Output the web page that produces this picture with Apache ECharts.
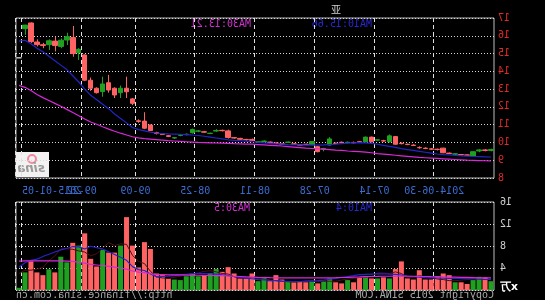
<!DOCTYPE html>
<html><head><meta charset="utf-8">
<script src="https://cdn.jsdelivr.net/npm/echarts@6/dist/echarts.min.js"></script>
<style>html,body{margin:0;padding:0;background:#000;}#c{width:545px;height:300px;transform:scaleX(-1);}</style>
</head><body><div id="c"></div>
<script>
const dates = ['2014-06-16','2014-06-17','2014-06-18','2014-06-19','2014-06-20','2014-06-23','2014-06-24','2014-06-25','2014-06-26','2014-06-27',
'2014-06-30','2014-07-01','2014-07-02','2014-07-03','2014-07-04','2014-07-07','2014-07-08','2014-07-09','2014-07-10','2014-07-11',
'2014-07-14','2014-07-15','2014-07-16','2014-07-17','2014-07-18','2014-07-21','2014-07-22','2014-07-23','2014-07-24','2014-07-25',
'2014-07-28','2014-07-29','2014-07-30','2014-07-31','2014-08-01','2014-08-04','2014-08-05','2014-08-06','2014-08-07','2014-08-08',
'2014-08-11','2014-08-12','2014-08-13','2014-08-14','2014-08-15','2014-08-18','2014-08-19','2014-08-20','2014-08-21','2014-08-22',
'2014-08-25','2014-08-26','2014-08-27','2014-08-28','2014-08-29','2014-09-01','2014-09-02','2014-09-03','2014-09-04','2014-09-05',
'2014-09-09','2014-09-10','2014-09-11','2014-09-12','2014-09-15','2014-09-16','2014-09-17','2014-09-18','2014-09-19','2014-09-22',
'2014-09-23','2014-09-24','2014-09-25','2014-09-26','2014-09-29','2014-09-30','2014-10-08','2014-10-09','2014-10-10','2015-01-05'];
const opens = [9.6,9.55,9.58,9.48,9.28,9.3,9.36,9.38,9.42,9.6,
9.62,9.66,9.7,9.83,9.88,9.93,9.9,10.37,10.08,10.15,
10.04,10.3,10.02,9.98,10.01,9.99,9.94,10.2,9.65,9.48,
10.05,9.88,9.85,9.9,10.02,9.9,9.95,10.0,10.08,10.04,
10.12,10.15,10.18,10.25,10.28,10.66,10.67,10.52,10.58,10.65,
10.73,10.46,10.42,10.27,10.34,10.45,10.5,10.67,10.8,11.18,
12.2,12.85,13.05,12.67,12.95,13.29,12.8,13.05,13.5,15.24,
15.0,15.95,15.75,15.45,15.72,15.45,15.5,15.67,16.6,14.76];
const closes = [9.55,9.58,9.52,9.22,9.3,9.32,9.34,9.4,9.68,9.62,
9.64,9.68,9.72,9.85,9.9,9.95,10.33,10.04,10.1,10.13,
10.3,10.04,10.04,10.0,9.99,10.01,9.96,9.86,9.62,9.76,
9.88,9.9,9.87,9.92,10.0,9.92,9.97,10.02,10.05,10.02,
10.17,10.17,10.23,10.27,10.65,10.68,10.64,10.5,10.6,10.63,
10.55,10.44,10.4,10.25,10.38,10.48,10.55,10.98,11.2,11.22,
12.45,13.05,12.8,13.05,13.36,12.86,13.05,13.5,14.92,15.05,
15.9,15.76,15.4,15.7,15.5,15.5,15.65,16.72,16.4,14.76];
const lows = [9.5,9.5,9.45,9.2,9.25,9.27,9.3,9.35,9.4,9.55,
9.58,9.62,9.65,9.8,9.85,9.9,9.88,10.0,10.03,10.08,
10.0,10.0,9.98,9.95,9.95,9.95,9.92,9.82,9.5,9.45,
9.85,9.85,9.82,9.87,9.97,9.87,9.9,9.97,10.02,10.0,
10.1,10.1,10.15,10.22,10.22,10.62,10.6,10.47,10.55,10.58,
10.5,10.4,10.35,10.2,10.3,10.42,10.45,10.65,10.75,11.1,
12.1,12.5,12.5,12.5,12.8,12.57,12.75,12.9,13.45,14.64,
14.82,15.48,15.3,15.12,15.2,15.3,15.4,15.6,16.05,14.76];
const highs = [9.65,9.62,9.62,9.5,9.33,9.35,9.38,9.43,9.7,9.65,
9.68,9.72,9.78,9.9,9.93,10.0,10.35,10.45,10.15,10.18,
10.33,10.33,10.08,10.05,10.05,10.05,9.98,10.3,9.7,9.8,
10.08,9.93,9.9,9.97,10.05,9.95,10.0,10.05,10.12,10.07,
10.22,10.2,10.26,10.3,10.72,10.72,10.75,10.55,10.65,10.7,
10.78,10.5,10.45,10.3,10.42,10.5,10.6,11.0,11.7,11.3,
12.5,13.7,13.2,13.1,13.8,13.7,13.1,13.65,14.95,15.3,
16.55,16.17,15.85,15.95,15.8,15.6,15.8,16.75,16.62,14.76];
const ma10 = [9.18,9.19,9.2,9.21,9.23,9.25,9.27,9.3,9.32,9.35,
9.4,9.45,9.5,9.55,9.6,9.65,9.72,9.78,9.84,9.9,
9.95,9.98,9.99,9.98,9.96,9.93,9.9,9.88,9.86,9.85,
9.85,9.85,9.86,9.87,9.88,9.9,9.92,9.95,9.98,10.01,
10.04,10.07,10.1,10.12,10.15,10.2,10.25,10.3,10.35,10.39,
10.42,10.44,10.46,10.47,10.48,10.5,10.53,10.58,10.65,10.72,
10.84,11.1,11.35,11.6,11.9,12.15,12.4,12.65,13.0,13.4,
13.75,14.1,14.35,14.6,14.85,15.1,15.3,15.55,15.75,15.7];
const ma30 = [8.96,8.97,8.98,8.99,9.0,9.02,9.04,9.06,9.08,9.1,
9.12,9.14,9.16,9.19,9.22,9.25,9.28,9.31,9.34,9.37,
9.42,9.46,9.48,9.5,9.52,9.55,9.57,9.6,9.62,9.64,
9.66,9.68,9.71,9.74,9.77,9.8,9.82,9.84,9.86,9.88,
9.9,9.91,9.92,9.93,9.95,9.96,9.97,9.98,9.99,10.0,
10.02,10.04,10.06,10.08,10.1,10.13,10.16,10.19,10.22,10.26,
10.32,10.42,10.52,10.63,10.75,10.88,11.02,11.15,11.32,11.5,
11.68,11.86,12.04,12.2,12.36,12.52,12.7,12.92,13.1,13.21];
const volumes = [1.6,2.3,2.4,1.8,1.1,1.4,1.4,2.7,3.0,2.5,
1.9,1.9,3.6,1.9,2.1,5.2,3.8,2.1,2.3,2.1,
2.1,2.5,2.3,1.4,1.8,1.2,1.4,2.1,1.6,1.2,
1.6,1.4,1.6,1.4,1.6,1.9,2.7,1.6,2.4,1.6,
3.0,2.1,2.1,3.0,4.15,3.3,3.8,3.1,2.7,2.5,
3.0,2.5,1.8,1.9,2.07,2.7,3.0,7.45,8.7,4.1,
8.07,13.25,8.07,6.8,6.8,7.3,4.27,5.67,10.3,8.07,
8.58,5.03,6.05,3.2,3.76,2.7,3.2,5.2,3.2,0.4];
const volMa5 = [1.9,1.9,2.0,2.0,1.9,1.8,1.7,1.7,1.9,2.0,
2.3,2.4,2.6,2.3,2.3,3.0,3.3,3.0,3.1,3.1,
2.5,2.3,2.3,2.1,2.0,1.8,1.6,1.6,1.6,1.5,
1.6,1.6,1.5,1.5,1.5,1.6,1.7,1.8,2.0,2.1,
2.3,2.2,2.2,2.4,2.9,3.0,3.3,3.5,3.4,3.1,
3.0,2.8,2.5,2.3,2.1,2.2,2.4,3.4,4.8,5.2,
6.3,8.3,8.4,8.1,8.6,7.6,6.6,6.2,6.9,7.1,
7.4,7.5,7.5,6.2,5.3,4.1,3.8,3.6,3.6,3.0];
const volMa10 = [1.9,1.95,2.0,2.05,2.1,2.1,2.1,2.1,2.15,2.2,
2.2,2.25,2.35,2.45,2.55,2.7,2.85,2.9,2.95,2.95,
2.9,2.85,2.8,2.6,2.45,2.3,2.1,1.95,1.8,1.7,
1.65,1.6,1.55,1.5,1.55,1.6,1.7,1.75,1.85,1.9,
2.05,2.15,2.3,2.45,2.6,2.75,2.9,2.95,3.0,3.0,
2.95,2.85,2.75,2.6,2.5,2.45,2.4,2.9,3.55,3.7,
4.25,5.4,5.95,6.45,6.95,7.45,7.7,7.95,7.45,7.85,
7.9,7.55,7.3,6.9,6.5,6.1,5.6,5.4,4.95,4.15];
const volMa30 = [2.2,2.2,2.22,2.25,2.28,2.3,2.33,2.35,2.37,2.4,
2.42,2.45,2.47,2.5,2.5,2.52,2.52,2.5,2.5,2.47,
2.45,2.42,2.38,2.35,2.3,2.27,2.24,2.22,2.2,2.2,
2.2,2.2,2.2,2.2,2.2,2.2,2.22,2.24,2.27,2.3,
2.35,2.4,2.45,2.5,2.55,2.6,2.62,2.64,2.66,2.68,
2.7,2.72,2.74,2.75,2.76,2.78,2.8,2.95,3.15,3.25,
3.45,3.8,4.0,4.15,4.3,4.45,4.55,4.65,4.9,5.05,
5.2,5.25,5.3,5.3,5.3,5.3,5.3,5.32,5.3,5.24];
const tickDates = ['2014-06-30','2014-07-14','2014-07-28','2014-08-11','2014-08-25','2014-09-09','2014-09-22','2015-01-05'];
const tickLabels = ['2014-06-30','07-14','07-28','08-11','08-25','09-09','09-22','2015-01-05'];
const titleText = '亚';
const priceLegend = ['MA10:15.66','MA30:13.21'];
const volLegend = ['MA10:4','MA30:5'];

const UP = '#ff6262', DOWN = '#20a020', MONO = 'DejaVu Sans Mono';
const candleData = dates.map((d, i) => [opens[i], closes[i], lows[i], highs[i]]);
const volColors = dates.map((d, i) => {
  if (closes[i] > opens[i]) return UP;
  if (closes[i] < opens[i]) return DOWN;
  return (i > 0 && closes[i] < closes[i - 1]) ? DOWN : UP;
});
const tickIdx = tickDates.map(d => dates.indexOf(d));
const lastIdx = dates.length - 1;
const labelOf = {};
tickDates.forEach((d, k) => { labelOf[d] = tickLabels[k]; });
const lastLabel = labelOf[dates[lastIdx]] || '';

const chart = echarts.init(document.getElementById('c'));
const gridLeft = 51, gridRight = 16;
const xBase = {
  type: 'category', data: dates, boundaryGap: true,
  axisLine: { show: false }, axisTick: { show: false },
  splitLine: { show: true, interval: (i) => tickIdx.includes(i), lineStyle: { color: '#e0e0e0', type: [4, 3], width: 1 } }
};
chart.setOption({
  backgroundColor: '#000',
  animation: false,
  grid: [
    { left: gridLeft, right: gridRight, top: 18, height: 160, show: true, borderColor: '#bdbdbd', borderWidth: 1, backgroundColor: 'transparent' },
    { left: gridLeft, right: gridRight, top: 202, height: 88, show: true, borderColor: '#bdbdbd', borderWidth: 1, backgroundColor: 'transparent' }
  ],
  xAxis: [
    Object.assign({}, xBase, { gridIndex: 0,
      axisLabel: { show: true, interval: (i) => tickIdx.includes(i) && i !== lastIdx, showMaxLabel: true, showMinLabel: true, hideOverlap: false,
        formatter: (v) => '{a|' + (labelOf[v] || '') + '}',
        rich: { a: { color: '#3a6cd0', fontFamily: MONO, fontSize: 10, padding: [0, 6, 0, 0] } },
        margin: 8 } }),
    Object.assign({}, xBase, { gridIndex: 1, axisLabel: { show: false } })
  ],
  yAxis: [
    { gridIndex: 0, min: 8, max: 17, interval: 1, position: 'left',
      axisLine: { show: false }, axisTick: { show: false },
      axisLabel: { color: '#e02a2a', fontFamily: MONO, fontSize: 10, margin: 4 },
      splitLine: { show: true, lineStyle: { color: '#d8d8d8', type: [1, 2], width: 1 } } },
    { gridIndex: 1, min: 0, max: 16, interval: 4, position: 'left',
      axisLine: { show: false }, axisTick: { show: false },
      axisLabel: { color: '#cfcfcf', fontFamily: MONO, fontSize: 10, margin: 6,
        formatter: (v) => v === 0 ? '{u|x万}' : String(v),
        rich: { u: { color: '#ffffff', fontWeight: 'bold', fontSize: 11, fontFamily: 'DejaVu Sans', padding: [0, 0, 6, 0] } } },
      splitLine: { show: true, lineStyle: { color: '#d8d8d8', type: [1, 2], width: 1 } } }
  ],
  series: [
    { type: 'candlestick', xAxisIndex: 0, yAxisIndex: 0, data: candleData, barWidth: 5,
      itemStyle: { color: UP, color0: DOWN, borderColor: UP, borderColor0: DOWN, borderColorDoji: '#c8c8c8', borderWidth: 1 } },
    { type: 'line', xAxisIndex: 0, yAxisIndex: 0, data: ma10, symbol: 'none', smooth: false,
      lineStyle: { color: '#2424c8', width: 1.2 } },
    { type: 'line', xAxisIndex: 0, yAxisIndex: 0, data: ma30, symbol: 'none',
      lineStyle: { color: '#d828d8', width: 1.2 } },
    { type: 'bar', xAxisIndex: 1, yAxisIndex: 1, data: volumes, barWidth: 5,
      itemStyle: { color: (p) => volColors[p.dataIndex] } },
    { type: 'line', xAxisIndex: 1, yAxisIndex: 1, data: volMa5, symbol: 'none',
      lineStyle: { color: '#501010', width: 1 } },
    { type: 'line', xAxisIndex: 1, yAxisIndex: 1, data: volMa10, symbol: 'none',
      lineStyle: { color: '#2424c8', width: 1.2 } },
    { type: 'line', xAxisIndex: 1, yAxisIndex: 1, data: volMa30, symbol: 'none',
      lineStyle: { color: '#d828d8', width: 1.2 } }
  ],
  graphic: [
    { type: 'text', left: 204, top: 4, style: { text: titleText, fill: '#d0d0d0', font: '10px "Noto Sans CJK SC"' } },
    { type: 'text', right: 22, top: 186, style: { text: lastLabel, fill: '#3a6cd0', font: '10px "DejaVu Sans Mono"' } },
    { type: 'text', left: 173, top: 19, style: { text: priceLegend[0], fill: '#2828d0', font: '10px "DejaVu Sans Mono"' } },
    { type: 'text', left: 294, top: 19, style: { text: priceLegend[1], fill: '#d030d0', font: '10px "DejaVu Sans Mono"' } },
    { type: 'text', left: 173, top: 203, style: { text: volLegend[0], fill: '#2828d0', font: '10px "DejaVu Sans Mono"' } },
    { type: 'text', left: 295, top: 203, style: { text: volLegend[1], fill: '#d030d0', font: '10px "DejaVu Sans Mono"' } },
    { type: 'text', left: 51, top: 290, style: { text: 'Copyright 2015 SINA.COM', fill: '#a8a8a8', font: '10px "DejaVu Sans Mono"' } },
    { type: 'text', right: 16, top: 290, style: { text: 'http://finance.sina.com.cn', fill: '#a8a8a8', font: '10px "DejaVu Sans Mono"' } },
    { type: 'group', left: 496, top: 152, children: [
      { type: 'rect', shape: { x: 0, y: 0, width: 33, height: 25 }, style: { fill: '#f2f2f2' } },
      { type: 'circle', shape: { cx: 17, cy: 7, r: 4 }, style: { fill: 'none', stroke: '#f08aa0', lineWidth: 2 } },
      { type: 'text', style: { x: 4, y: 11, text: 'sina', fill: '#9a9a9a', font: 'italic bold 12px "DejaVu Sans"' } }
    ] }
  ]
});
</script></body></html>
